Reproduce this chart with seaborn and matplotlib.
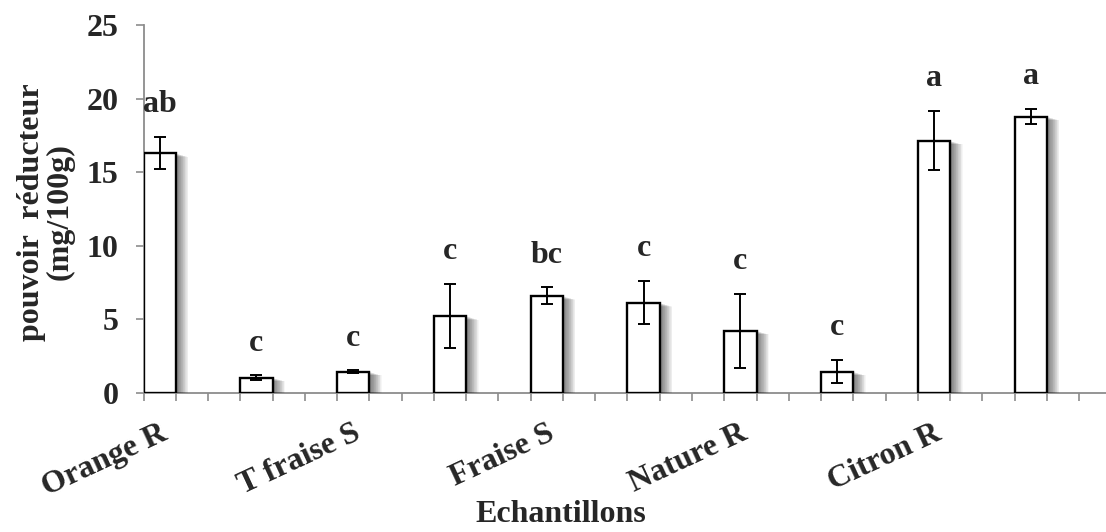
import numpy as np
import matplotlib
matplotlib.use("Agg")
import matplotlib.pyplot as plt
import matplotlib.patheffects as pe
from matplotlib.transforms import ScaledTranslation
import seaborn as sns

# values
means = [16.3, 1.05, 1.45, 5.23, 6.6, 6.13, 4.23, 1.45, 17.14, 18.78]
errors = [1.1, 0.15, 0.08, 2.2, 0.57, 1.47, 2.5, 0.79, 2.02, 0.51]
letters = ["ab", "c", "c", "c", "bc", "c", "c", "c", "a", "a"]
tick_labels = ["Orange R", "T fraise S", "Fraise S", "Nature R", "Citron R"]

sns.set_style("white")
plt.rcParams["font.family"] = ["Liberation Serif", "DejaVu Serif"]
plt.rcParams["font.weight"] = "bold"

FS = 23
AXIS_GREY = "#8c8c8c"

# each bar sits in the first third of a 3-slot category, ticks every slot
pos = 3 * np.arange(len(means)) + 0.5

fig = plt.figure(figsize=(11.06, 5.32), dpi=100)
ax = fig.add_axes([143.5 / 1106, 1 - 393 / 532, 1 - 143.5 / 1106, 368 / 532])

sns.barplot(x=pos, y=means, native_scale=True, width=1 / 3, color="white",
            edgecolor="black", linewidth=1.7, errorbar=None, ax=ax, zorder=3)

# soft drop shadow to the right of each bar (stacked faint copies = blur)
shadow = [pe.SimplePatchShadow(offset=(k, -0.3 * k), shadow_rgbFace="black", alpha=0.035)
          for k in np.arange(0.5, 9.5, 0.5)]
for bar in ax.patches:
    bar.set_path_effects(shadow + [pe.Normal()])

ax.errorbar(pos, means, yerr=errors, fmt="none", ecolor="black", elinewidth=1.4,
            capsize=4, capthick=1.4, zorder=5)

for x, m, e, lab in zip(pos, means, errors, letters):
    ax.text(x, m + e + 1.2, lab, ha="center", va="bottom", fontsize=FS, fontweight="bold")

ax.set_xlim(0, 29.83)
ax.set_ylim(0, 25)
ax.set_yticks(np.arange(0, 26, 5))
ax.set_xticks(np.arange(0, 30))
ax.set_xticklabels([])
ax.set_xticks(pos[::2], tick_labels, minor=True)
ax.set_xlabel("")
ax.set_ylabel("")

for side in ["top", "right"]:
    ax.spines[side].set_visible(False)
for side in ["left", "bottom"]:
    ax.spines[side].set_color(AXIS_GREY)
    ax.spines[side].set_linewidth(1.3)

ax.tick_params(axis="y", which="major", direction="out", length=6, width=1.2,
               color=AXIS_GREY, labelsize=FS, pad=12, left=True)
ax.tick_params(axis="x", which="major", direction="out", length=6, width=1.2,
               color=AXIS_GREY, bottom=True)
ax.tick_params(axis="x", which="minor", length=0, labelsize=FS, pad=28, bottom=True)

shift = ScaledTranslation(4 / 72, 0, fig.dpi_scale_trans)
for lbl in ax.get_xticklabels(minor=True):
    lbl.set_rotation(25)
    lbl.set_ha("right")
    lbl.set_va("center")
    lbl.set_rotation_mode("anchor")
    lbl.set_fontweight("bold")
    lbl.set_transform(lbl.get_transform() + shift)
for lbl in ax.get_yticklabels():
    lbl.set_fontweight("bold")

fig.text(46 / 1106, 1 - 212 / 532, "pouvoir  réducteur\n(mg/100g)", rotation=90,
         ha="center", va="center", multialignment="center", linespacing=1.0,
         fontsize=FS, fontweight="bold")
fig.text(561 / 1106, 1 - 514 / 532, "Echantillons", ha="center", va="center",
         fontsize=FS, fontweight="bold")

fig.savefig("out.png", dpi=100)
